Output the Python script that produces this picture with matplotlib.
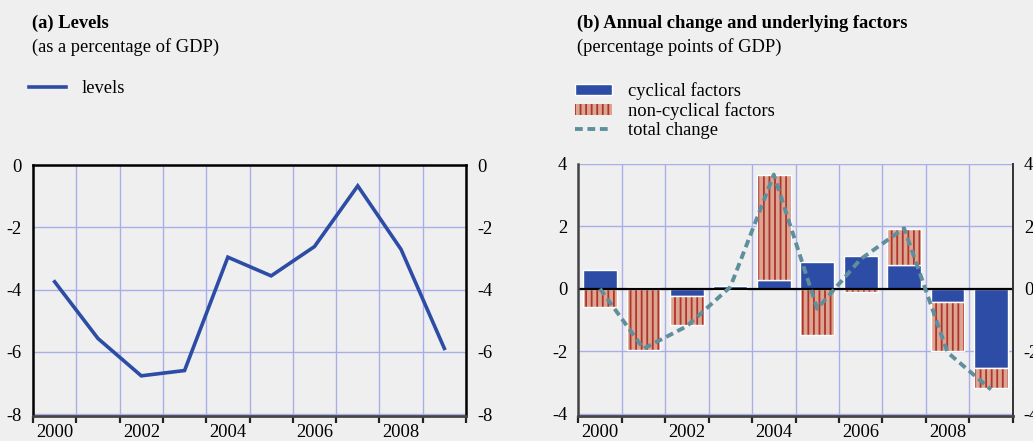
import matplotlib
matplotlib.use("Agg")
import matplotlib.pyplot as plt
import numpy as np
from matplotlib.ticker import FixedLocator, NullFormatter

years = [2000, 2001, 2002, 2003, 2004, 2005, 2006, 2007, 2008, 2009]
levels = [-3.75, -5.57, -6.77, -6.60, -2.96, -3.56, -2.62, -0.67, -2.71, -5.89]
cyclical = [0.59, 0.07, -0.24, 0.09, 0.27, 0.86, 1.05, 0.76, -0.42, -2.53]
non_cyclical = [-0.58, -1.97, -0.93, -0.03, 3.37, -1.49, -0.10, 1.16, -1.58, -0.64]
total_change = [0.0, -1.92, -1.20, 0.06, 3.66, -0.64, 0.95, 1.94, -2.04, -3.23]
year_labels = ["2000", "2002", "2004", "2006", "2008"]

BG = "#efefef"
BLUE = "#2c4ca6"
SALMON = "#dca592"
STRIPE = "#b0342a"
TEAL = "#5f8f9c"
GRID = "#a9afe6"
FS = 13.3

plt.rcParams["font.family"] = ["Liberation Serif", "DejaVu Serif"]
plt.rcParams["font.size"] = FS
plt.rcParams["hatch.linewidth"] = 1.3

W, H = 1033, 441
fig = plt.figure(figsize=(W / 100, H / 100), dpi=100, facecolor=BG)


def fx(px):
    return px / W


def fy(py):
    return 1 - py / H


def style_axes(ax, ylim, yticks):
    ax.set_facecolor(BG)
    ax.set_xlim(1999.5, 2009.5)
    ax.set_ylim(*ylim)
    ax.xaxis.set_major_locator(FixedLocator([int(s) for s in year_labels]))
    ax.set_xticklabels(year_labels)
    ax.xaxis.set_minor_locator(FixedLocator(np.arange(1999.5, 2010, 1.0)))
    ax.xaxis.set_minor_formatter(NullFormatter())
    ax.tick_params(axis="x", which="major", length=0, pad=6, labelsize=FS)
    ax.tick_params(axis="x", which="minor", length=5, width=1.6, color="#222222", direction="out")
    ax.set_yticks(yticks)
    ax.set_yticklabels([f"{t:g}" for t in yticks])
    ax.tick_params(axis="y", which="major", length=0, labelsize=FS, pad=8,
                   left=True, right=True, labelleft=True, labelright=True)
    ax.grid(True, which="minor", axis="x", color=GRID, lw=1)
    ax.grid(True, which="major", axis="y", color=GRID, lw=1)
    ax.set_axisbelow(True)
    ax.spines["bottom"].set_color("#444444")
    ax.spines["bottom"].set_linewidth(2)


# ---------- Panel (a) ----------
axL = fig.add_axes([fx(33), fy(416), fx(433), 251 / H])
style_axes(axL, (-8.06, 0), [0, -2, -4, -6, -8])
for s in ("left", "right", "top"):
    axL.spines[s].set_color("black")
    axL.spines[s].set_linewidth(1.8)
axL.plot(years, levels, color=BLUE, lw=2.6, solid_joinstyle="miter", label="levels")

fig.text(fx(32), fy(28), "(a) Levels", fontweight="bold", fontsize=FS, ha="left", va="baseline")
fig.text(fx(32), fy(52), "(as a percentage of GDP)", fontsize=FS, ha="left", va="baseline")
axL.legend(loc="upper left", bbox_to_anchor=(fx(22), fy(73)), bbox_transform=fig.transFigure,
           frameon=False, fontsize=FS, handlelength=2.0, handletextpad=0.85, borderaxespad=0)

# ---------- Panel (b) ----------
axR = fig.add_axes([fx(578.3), fy(415.7), fx(434.4), 251.7 / H])
style_axes(axR, (-4.07, 4), [4, 2, 0, -2, -4])
axR.spines["top"].set_visible(False)
axR.spines["left"].set_color("#444444")
axR.spines["left"].set_linewidth(1.8)
axR.spines["right"].set_color("#333333")
axR.spines["right"].set_linewidth(1.4)
axR.axhline(4, color=GRID, lw=1.5, zorder=0.5)

cyc = np.array(cyclical)
nc = np.array(non_cyclical)
nc_bottom = np.where(np.sign(nc) == np.sign(cyc), cyc, 0.0)

bw = 0.78
b1 = axR.bar(years, cyc, width=bw, color=BLUE, edgecolor="white", lw=1.0, zorder=2,
             label="cyclical factors")
b2 = axR.bar(years, nc, bottom=nc_bottom, width=bw, facecolor=SALMON, edgecolor=STRIPE,
             lw=0, hatch="|||", zorder=2, label="non-cyclical factors")
axR.bar(years, nc, bottom=nc_bottom, width=bw, facecolor="none", edgecolor="white",
        lw=1.0, zorder=2.1)
axR.axhline(0, color="black", lw=1.6, zorder=2.5)
l1, = axR.plot(years, total_change, color=TEAL, lw=2.8, dashes=(2.0, 1.2), zorder=3,
               label="total change")

fig.text(fx(577), fy(28), "(b) Annual change and underlying factors", fontweight="bold",
         fontsize=FS, ha="left", va="baseline")
fig.text(fx(577), fy(52), "(percentage points of GDP)", fontsize=FS, ha="left", va="baseline")
axR.legend(handles=[b1, b2, l1], loc="upper left", bbox_to_anchor=(fx(568), fy(75)),
           bbox_transform=fig.transFigure,
           frameon=False, fontsize=FS, handlelength=2.0, handletextpad=0.85,
           labelspacing=0.1, borderaxespad=0, handleheight=0.55)

fig.savefig("out.png", dpi=100, facecolor=BG)
